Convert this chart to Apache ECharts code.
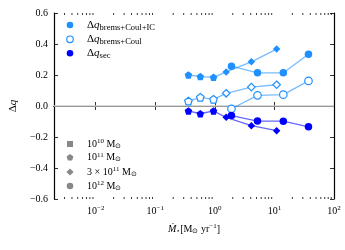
<!DOCTYPE html>
<html><head><meta charset="utf-8">
<script src="https://cdn.jsdelivr.net/npm/echarts@6/dist/echarts.min.js"></script>
<style>html,body{margin:0;padding:0;background:#fff}#c{width:345px;height:250px}</style>
</head><body><div id="c"></div>
<script>
// ---- data (star formation rate in Msun/yr, Delta q) ----
const sfr11   = [0.36, 0.57, 0.95];          // 1e11 Msun (pentagons)
const sfr3e11 = [1.55, 4.1, 10.9];           // 3e11 Msun (diamonds)
const sfr12   = [1.9, 5.2, 14.1, 37.3];      // 1e12 Msun (circles)

const dqIC11   = [0.200, 0.190, 0.185];
const dqIC3e11 = [0.220, 0.285, 0.367];
const dqIC12   = [0.257, 0.214, 0.214, 0.334];

const dqCoul11   = [0.032, 0.056, 0.043];
const dqCoul3e11 = [0.082, 0.122, 0.137];
const dqCoul12   = [-0.018, 0.069, 0.073, 0.162];

const dqSec11   = [-0.032, -0.050, -0.032];
const dqSec3e11 = [-0.073, -0.127, -0.159];
const dqSec12   = [-0.062, -0.097, -0.098, -0.134];

const xTickExponents = [-2, -1, 0, 1, 2];
const yTickValues = [-0.6, -0.4, -0.2, 0.0, 0.2, 0.4, 0.6];
const quantityLabels = ['brems+Coul+IC', 'brems+Coul', 'sec'];
const massLabels = [['10','10',''], ['10','11',''], ['10','11','3 × '], ['10','12','']];

// ---- styling ----
const FONT = 'Liberation Serif';
const XMIN = 0.002, XMAX = 100, YMIN = -0.6, YMAX = 0.6;
const PENT = 'path://M0,-1L0.951,-0.309L0.588,0.809L-0.588,0.809L-0.951,-0.309Z';
const C_IC = '#1e90ff', C_SEC = '#0000ff';
const L_IC = 'rgba(30,144,255,0.6)', L_SEC = 'rgba(0,0,255,0.6)';

function pts(xs, ys, sym) { return xs.map((x, i) => ({ value: [x, ys[i]], symbol: sym })); }

function mkSeries(a11, a3e11, a12, color, lineColor, hollow) {
  const item = hollow ? { color: '#fff', borderColor: color, borderWidth: 1.2 } : { color: color, borderWidth: 0 };
  const base = { type: 'line', silent: true, animation: false, showAllSymbol: true,
    lineStyle: { color: lineColor, width: 1.3 }, itemStyle: item, z: 3 };
  return [
    Object.assign({}, base, { symbolSize: 7.5,
      data: pts(sfr11, a11, PENT).concat(pts(sfr3e11, a3e11, 'diamond')) }),
    Object.assign({}, base, { symbol: 'circle', symbolSize: 7.5, data: pts(sfr12, a12, 'circle') })
  ];
}

const minorTicks = [];
for (let k = -3; k <= 1; k++) for (let m = 2; m <= 9; m++) {
  const v = m * Math.pow(10, k);
  if (v > XMIN && v < XMAX) minorTicks.push([v, 0]);
}

function xFmt(v) {
  const l = Math.log10(v), e = Math.round(l);
  if (Math.abs(l - e) > 1e-6 || xTickExponents.indexOf(e) < 0) return '';
  return '{b|10}{s|' + (e < 0 ? '−' + (-e) : e) + '}';
}
function yFmt(v) { return v.toFixed(1).replace('-', '−'); }

const axisCommon = {
  axisLine: { lineStyle: { color: '#000', width: 1.2 } },
  axisTick: { inside: true, length: 4, lineStyle: { color: '#000', width: 0.8 } },
  splitLine: { show: false }
};

const series = [];
// zero reference line
series.push({
  type: 'custom', silent: true, animation: false, z: 1,
  data: [[XMIN, 0]],
  renderItem: function (params, api) {
    const a = api.coord([XMIN, 0]), b = api.coord([XMAX, 0]);
    return { type: 'line', shape: { x1: a[0], y1: a[1], x2: b[0], y2: b[1] },
      style: { stroke: '#cccccc', lineWidth: 1.5 } };
  }
});
series.push.apply(series, []
  .concat(mkSeries(dqIC11, dqIC3e11, dqIC12, C_IC, L_IC, false))
  .concat(mkSeries(dqCoul11, dqCoul3e11, dqCoul12, C_IC, L_IC, true))
  .concat(mkSeries(dqSec11, dqSec3e11, dqSec12, C_SEC, L_SEC, false)));

series.push({
  type: 'custom', silent: true, animation: false, clip: false, z: 5,
  data: minorTicks,
  renderItem: function (params, api) {
    const x = api.value(0);
    const pb = api.coord([x, YMIN]), pt = api.coord([x, YMAX]);
    const st = { stroke: '#000', lineWidth: 0.8 };
    return { type: 'group', children: [
      { type: 'line', shape: { x1: pb[0], y1: pb[1], x2: pb[0], y2: pb[1] - 2 }, style: st },
      { type: 'line', shape: { x1: pt[0], y1: pt[1], x2: pt[0], y2: pt[1] + 2 }, style: st }
    ]};
  }
});

// ---- legends (graphic) ----
const g = [];
const legY = [25, 39.3, 53.3];
const legSty = [
  { fill: C_IC }, { fill: '#fff', stroke: C_IC, lineWidth: 1.2 }, { fill: C_SEC }
];
const richQ = {
  d: { fontFamily: FONT, fontSize: 11, fill: '#000' },
  q: { fontFamily: FONT, fontSize: 11, fontStyle: 'italic', fill: '#000' },
  s: { fontFamily: FONT, fontSize: 8.5, fill: '#000', padding: [5, 0, 0, 0] }
};
quantityLabels.forEach((lab, i) => {
  g.push({ type: 'circle', shape: { cx: 70, cy: legY[i], r: 3.3 }, style: legSty[i] });
  g.push({ type: 'text', x: 87, y: legY[i], style: { text: '{d|Δ}{q|q}{s|' + lab + '}', rich: richQ,
    verticalAlign: 'middle', align: 'left' } });
});
const massY = [144, 157.5, 172, 186];
const GR = '#888888';
g.push({ type: 'rect', shape: { x: 67, y: massY[0] - 3, width: 6, height: 6 }, style: { fill: GR } });
g.push({ type: 'polygon', shape: { points: [[0,-1],[0.951,-0.309],[0.588,0.809],[-0.588,0.809],[-0.951,-0.309]].map(p => [70 + 3.6 * p[0], massY[1] + 3.6 * p[1]]) }, style: { fill: GR } });
g.push({ type: 'polygon', shape: { points: [[70, massY[2] - 3.6], [73.6, massY[2]], [70, massY[2] + 3.6], [66.4, massY[2]]] }, style: { fill: GR } });
g.push({ type: 'circle', shape: { cx: 70, cy: massY[3], r: 3.3 }, style: { fill: GR } });
const richM = {
  n: { fontFamily: FONT, fontSize: 10, fill: '#000' },
  p: { fontFamily: FONT, fontSize: 7, fill: '#000', padding: [0, 0, 5, 0] },
  o: { fontFamily: FONT, fontSize: 7, fill: '#000', padding: [4, 0, 0, 0] }
};
massLabels.forEach((m, i) => {
  g.push({ type: 'text', x: 87, y: massY[i], style: {
    text: '{n|' + m[2] + m[0] + '}{p|' + m[1] + '}{n| M}{o|⊙}', rich: richM, verticalAlign: 'middle', align: 'left' } });
});

const chart = echarts.init(document.getElementById('c'), null, { renderer: 'canvas' });
chart.setOption({
  animation: false,
  backgroundColor: '#fff',
  grid: { left: 52, right: 11, top: 13, bottom: 51, containLabel: false },
  xAxis: [
    Object.assign({}, axisCommon, { type: 'log', logBase: 10, min: XMIN, max: XMAX, position: 'bottom',
      axisLabel: { formatter: xFmt, margin: 6, rich: {
        b: { fontFamily: FONT, fontSize: 10, color: '#000' },
        s: { fontFamily: FONT, fontSize: 7, color: '#000', padding: [0, 0, 5, 0] } } },
      name: '{i|Ṁ}{st|⋆}{r|[M}{st|⊙}{r| yr}{sp|−1}{r|]}', nameLocation: 'middle', nameGap: 24,
      nameTextStyle: { rich: {
        i: { fontFamily: FONT, fontSize: 10, fontStyle: 'italic', color: '#000' },
        r: { fontFamily: FONT, fontSize: 10, color: '#000' },
        st: { fontFamily: FONT, fontSize: 7, color: '#000', padding: [4, 0, 0, 0] },
        sp: { fontFamily: FONT, fontSize: 7, color: '#000', padding: [0, 0, 5, 0] } } } }),
    Object.assign({}, axisCommon, { type: 'log', logBase: 10, min: XMIN, max: XMAX, position: 'top',
      axisLabel: { show: false } })
  ],
  yAxis: [
    Object.assign({}, axisCommon, { type: 'value', min: YMIN, max: YMAX, interval: 0.2, position: 'left',
      axisLabel: { formatter: yFmt, margin: 6, fontFamily: FONT, fontSize: 10, color: '#000' },
      name: '{d|Δ}{q|q}', nameLocation: 'middle', nameGap: 32, nameRotate: 90,
      nameTextStyle: { rich: {
        d: { fontFamily: FONT, fontSize: 11, color: '#000' },
        q: { fontFamily: FONT, fontSize: 11, fontStyle: 'italic', color: '#000' } } } }),
    Object.assign({}, axisCommon, { type: 'value', min: YMIN, max: YMAX, interval: 0.2, position: 'right',
      axisLabel: { show: false } })
  ],
  graphic: g,
  series: series
});
</script></body></html>
